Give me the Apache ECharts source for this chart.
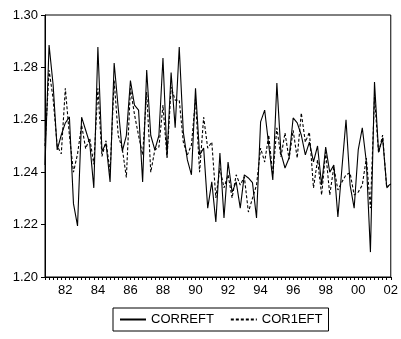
<!DOCTYPE html>
<html>
<head>
<meta charset="utf-8">
<script src="https://cdn.jsdelivr.net/npm/echarts@6/dist/echarts.min.js"></script>
<style>
  html, body { margin: 0; padding: 0; background: #fff; }
  #main { width: 401px; height: 339px; }
</style>
</head>
<body>
<div id="main"></div>
<script>
// quarterly sample, 1980Q4 .. 2002Q1
var startYear = 1980, startQuarter = 4, nObs = 86;
var quarters = [];
for (var i = 0; i < nObs; i++) {
    var q = startQuarter - 1 + i;
    quarters.push((startYear + Math.floor(q / 4)) + 'Q' + (q % 4 + 1));
}

var correft = [
    1.2427, 1.2885, 1.2733, 1.2485, 1.2542, 1.2588, 1.2611, 1.2280, 1.2195, 1.2610,
    1.2560, 1.2510, 1.2340, 1.2878, 1.2480, 1.2510, 1.2363, 1.2817, 1.2645, 1.2480,
    1.2540, 1.2750, 1.2656, 1.2637, 1.2363, 1.2790, 1.2540, 1.2485, 1.2540, 1.2836,
    1.2460, 1.2780, 1.2570, 1.2878, 1.2553, 1.2447, 1.2390, 1.2720, 1.2466, 1.2492,
    1.2263, 1.2363, 1.2210, 1.2473, 1.2225, 1.2439, 1.2324, 1.2363, 1.2263, 1.2390,
    1.2378, 1.2360, 1.2225, 1.2592, 1.2637, 1.2504, 1.2370, 1.2740, 1.2473, 1.2416,
    1.2454, 1.2607, 1.2588, 1.2542, 1.2466, 1.2515, 1.2439, 1.2500, 1.2351, 1.2496,
    1.2400, 1.2427, 1.2229, 1.2416, 1.2600, 1.2351, 1.2263, 1.2485, 1.2569, 1.2439,
    1.2095, 1.2744, 1.2477, 1.2530, 1.2344, 1.2355
];

var cor1eft = [
    1.2500, 1.2790, 1.2680, 1.2500, 1.2470, 1.2720, 1.2540, 1.2400, 1.2470, 1.2580,
    1.2490, 1.2530, 1.2430, 1.2720, 1.2460, 1.2520, 1.2400, 1.2750, 1.2540, 1.2490,
    1.2380, 1.2720, 1.2620, 1.2540, 1.2466, 1.2706, 1.2400, 1.2485, 1.2496, 1.2656,
    1.2454, 1.2725, 1.2675, 1.2675, 1.2515, 1.2466, 1.2504, 1.2680, 1.2400, 1.2610,
    1.2492, 1.2515, 1.2302, 1.2416, 1.2340, 1.2390, 1.2302, 1.2390, 1.2351, 1.2382,
    1.2248, 1.2300, 1.2351, 1.2492, 1.2439, 1.2542, 1.2390, 1.2569, 1.2458, 1.2550,
    1.2450, 1.2560, 1.2454, 1.2626, 1.2515, 1.2553, 1.2340, 1.2447, 1.2313, 1.2477,
    1.2313, 1.2420, 1.2332, 1.2363, 1.2390, 1.2397, 1.2313, 1.2324, 1.2351, 1.2454,
    1.2263, 1.2687, 1.2473, 1.2542, 1.2340, 1.2355
];

var yMin = 1.20, yMax = 1.30, yStep = 0.02;

var font = 'Arial, "Liberation Sans", sans-serif';
var chart = echarts.init(document.getElementById('main'));

var option = {
    animation: false,
    backgroundColor: '#fff',
    grid: {
        left: 45,
        right: 8,
        top: 15,
        bottom: 62,
        show: true,
        borderColor: '#000',
        borderWidth: 1
    },
    legend: {
        left: 113,
        top: 308,
        padding: [5, 6],
        itemGap: 16,
        itemWidth: 26,
        itemHeight: 10,
        borderColor: '#000',
        borderWidth: 1,
        itemStyle: { opacity: 0 },
        textStyle: { color: '#000', fontSize: 13, fontFamily: font },
        data: ['CORREFT', 'COR1EFT']
    },
    xAxis: {
        type: 'category',
        boundaryGap: false,
        data: quarters,
        axisLine: { lineStyle: { color: '#000', width: 1 } },
        axisTick: { show: true, interval: 0, length: 3, lineStyle: { color: '#000' } },
        axisLabel: {
            color: '#000',
            fontSize: 13,
            fontFamily: font,
            margin: 7,
            interval: function (idx, val) { return /Q1$/.test(val) && (parseInt(val) % 2 === 0); },
            formatter: function (val) { return val.substr(2, 2); }
        },
        splitLine: { show: false }
    },
    yAxis: {
        type: 'value',
        min: yMin,
        max: yMax,
        interval: yStep,
        axisLine: { show: true, lineStyle: { color: '#000', width: 1 } },
        axisTick: { show: true, length: 4, lineStyle: { color: '#000' } },
        axisLabel: {
            color: '#000',
            fontSize: 13,
            fontFamily: font,
            margin: 7,
            formatter: function (v) { return v.toFixed(2); }
        },
        splitLine: { show: false }
    },
    series: [
        {
            name: 'CORREFT',
            type: 'line',
            symbol: 'none',
            data: correft,
            lineStyle: { color: '#000', width: 1.1, type: 'solid' },
            itemStyle: { color: '#000' }
        },
        {
            name: 'COR1EFT',
            type: 'line',
            symbol: 'none',
            data: cor1eft,
            lineStyle: { color: '#000', width: 1.1, type: [3, 2] },
            itemStyle: { color: '#000' }
        }
    ]
};

chart.setOption(option);
</script>
</body>
</html>
